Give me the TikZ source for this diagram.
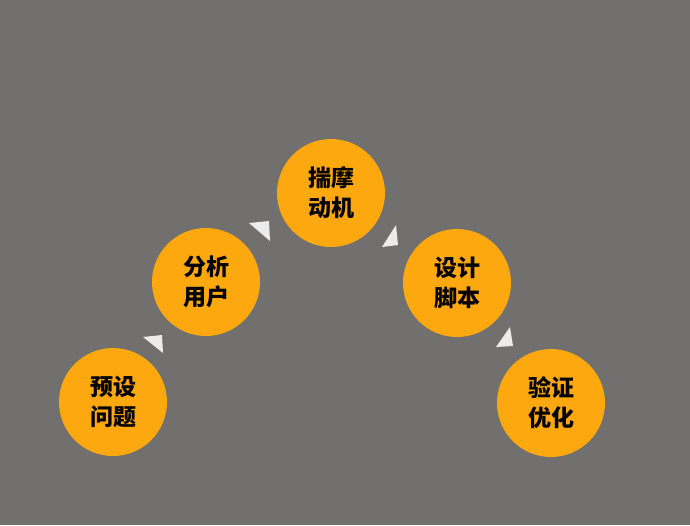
\documentclass[tikz,border=0pt]{standalone}
\usepackage{fontspec}
\newfontfamily\cjk{Noto Sans CJK SC}
\definecolor{bggray}{HTML}{71706E}
\definecolor{stageorange}{HTML}{FCA80E}
\definecolor{tipwhite}{HTML}{ECECEC}
\begin{document}
\begin{tikzpicture}[x=1pt,y=-1pt,
  stage/.style={circle,fill=stageorange,minimum size=108pt,inner sep=0pt,align=center,
    font=\cjk\bfseries\fontsize{23}{30}\selectfont,text=black}]
\fill[bggray] (0,0) rectangle (690,525);

\foreach \x/\y/\n/\t in {113/402/ask/{预设\\问题}, 206/282/user/{分析\\用户}, 331/193/motive/{揣摩\\动机},
  457/283/script/{设计\\脚本}, 551/403/check/{验证\\优化}} {
	\node[stage](\n) at (\x,\y) {\t};
}

% small triangles between the stages
\fill[tipwhite] (143,337) -- (162,335) -- (163,353) -- cycle;
\fill[tipwhite] (249,223) -- (269,221) -- (270,241) -- cycle;
\fill[tipwhite] (382,247) -- (396,225) -- (398,245) -- cycle;
\fill[tipwhite] (496,347) -- (510,327) -- (513,346) -- cycle;

\end{tikzpicture}
\end{document}
